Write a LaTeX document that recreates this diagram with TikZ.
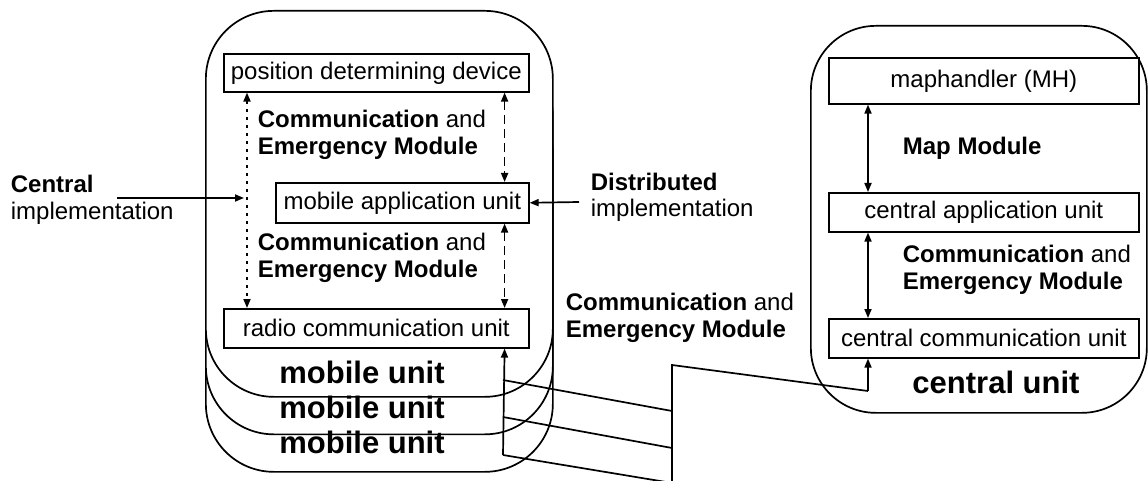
\documentclass[tikz,border=0pt]{standalone}
\usepackage{fontspec}
\setmainfont{Liberation Sans}
\usetikzlibrary{arrows.meta}
\begin{document}
\begin{tikzpicture}[x=1pt,y=-1pt,
  line width=1.7pt,
  unitbox/.style={draw, fill=white, rounded corners=68pt, line width=1.7pt, inner sep=0pt, anchor=north west},
  blk/.style={draw, fill=white, line width=1.6pt, inner sep=0pt, anchor=north west, font=\fontsize{24}{27}\selectfont},
  lbl/.style={inner sep=0pt, anchor=base west, align=left, font=\fontsize{24}{27}\selectfont},
  big/.style={inner sep=0pt, anchor=base, font=\fontsize{31}{35}\selectfont\bfseries},
  tip/.style={-{Triangle[length=9pt,width=7pt]}},
  tips/.style={{Triangle[length=9pt,width=7pt]}-{Triangle[length=9pt,width=7pt]}},
  dotline/.style={dash pattern=on 3pt off 5pt},
  dashline/.style={dash pattern=on 9pt off 5pt},
]
\useasboundingbox (0,0) rectangle (1148,481);

% mobile unit stack
\node[unitbox, minimum width=347pt, minimum height=386pt] (mu3) at (205,85) {};
\node[unitbox, minimum width=347pt, minimum height=386pt] (mu2) at (205,47.5) {};
\node[unitbox, minimum width=347pt, minimum height=386pt] (mu1) at (205,10) {};

\node[big] (mul1) at (362,383) {mobile unit};
\node[big] (mul2) at (362,418) {mobile unit};
\node[big] (mul3) at (362,453) {mobile unit};

% mobile inner blocks
\node[blk, minimum width=305pt, minimum height=38pt] (pdd) at (223,53) {position determining device};
\node[blk, minimum width=253pt, minimum height=40pt] (mau) at (275,182) {mobile application unit};
\node[blk, minimum width=305pt, minimum height=39pt] (rcu) at (223,308) {radio communication unit};

\draw[tips, dotline] ([xshift=24pt]pdd.south west) -- ([xshift=24pt]rcu.north west);
\draw[tips, dashline] ([xshift=-25pt]pdd.south east) -- ([xshift=-25pt]mau.north east);
\draw[tips, dashline] ([xshift=-25pt]mau.south east) -- ([xshift=-25pt]rcu.north east);

\node[lbl] (cem1) at (257,155) {\textbf{Communication} and\\\textbf{Emergency Module}};
\node[lbl] (cem2) at (257,277) {\textbf{Communication} and\\\textbf{Emergency Module}};

% central / distributed implementation
\node[lbl] (cimp) at (10,219) {\textbf{Central}\\implementation};
\coordinate (cis) at (117,198);
\coordinate (cie) at (244,198);
\draw[tip] (cis) -- (cie);

\node[lbl] (dimp) at (590,217) {\textbf{Distributed}\\implementation};
\coordinate (dis) at (579,202);
\draw[tip] (dis) -- (mau.east);

% middle label
\node[lbl] (cem3) at (565,337) {\textbf{Communication} and\\\textbf{Emergency Module}};

% central unit
\node[unitbox, rounded corners=65pt, minimum width=336pt, minimum height=387pt] (cu) at (810,25) {};
\node[big] (cul) at (996,393) {central unit};

\node[blk, minimum width=310pt, minimum height=46pt] (mh) at (828,57) {maphandler (MH)};
\node[blk, minimum width=310pt, minimum height=39pt] (cau) at (828,192) {central application unit};
\node[blk, minimum width=310pt, minimum height=39pt] (ccu) at (828,318) {central communication unit};

\draw[tips] ([xshift=40pt]mh.south west) -- ([xshift=40pt]cau.north west);
\draw[tips] ([xshift=40pt]cau.south west) -- ([xshift=40pt]ccu.north west);

\node[lbl] (mm) at (902,155) {\textbf{Map Module}};
\node[lbl] (cem4) at (902,289) {\textbf{Communication} and\\\textbf{Emergency Module}};

% network connections
\coordinate (j1) at (503,380);
\coordinate (j2) at (503,417);
\coordinate (j3) at (503,455);
\coordinate (b1) at (672,411);
\coordinate (b2) at (672,448);
\coordinate (b3) at (672,483);
\coordinate (btop) at (672,365);
\coordinate (cc) at (868,391);

\draw[tip] (j3) -- ([xshift=-25pt]rcu.south east);
\draw (j1) -- (b1);
\draw (j2) -- (b2);
\draw (j3) -- (b3);
\draw (b3) -- (btop) -- (cc);
\draw[tip] (cc) -- ([xshift=40pt]ccu.south west);
\end{tikzpicture}
\end{document}
